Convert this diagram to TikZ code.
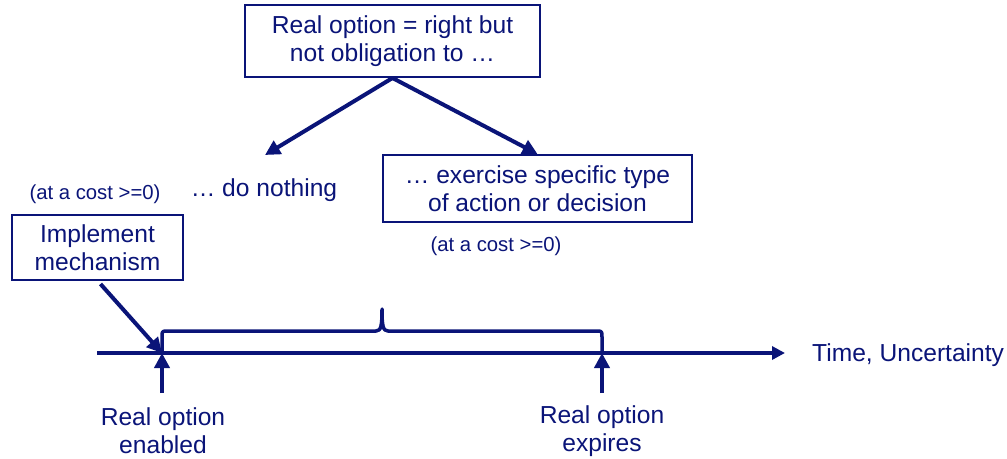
\documentclass[tikz,border=0pt]{standalone}
\usepackage{fontspec}
\setmainfont{Liberation Sans}
\usetikzlibrary{arrows.meta,calc}
\definecolor{navy}{RGB}{10,20,120}
\begin{document}
\begin{tikzpicture}[x=1pt,y=-1pt,
  every node/.style={text=navy,inner sep=0pt},
  big/.style={font=\fontsize{24.6}{28}\selectfont,align=center},
  small/.style={font=\fontsize{20.3}{24}\selectfont},
  box/.style={big,draw=navy,line width=2pt,fill=white},
  link/.style={draw=navy,line width=4pt,-{Triangle[length=15pt,width=15pt]}}]
\useasboundingbox (0,0) rectangle (1007,458);

% option boxes and texts
\node[box,minimum width=295pt,minimum height=72pt] (top) at (392.5,41) {Real option = right but\\not obligation to \ldots};
\node[box,minimum width=309pt,minimum height=67pt] (act) at (537.5,188.5) {\ldots\ exercise specific type\\of action or decision};
\node[big] (none) at (264,190) {\ldots\ do nothing};
\coordinate (noneTip) at (265,155);
\node[small] (cost1) at (95,194) {(at a cost >=0)};
\node[small] (cost2) at (496,246) {(at a cost >=0)};
\node[box,minimum width=171pt,minimum height=65pt] (impl) at (97.5,247.5) {Implement\\mechanism};

% time axis
\coordinate (axisStart) at (97,353);
\coordinate (axisEnd) at (785,353);
\coordinate (t0) at (162,353);
\coordinate (t1) at (602,353);
\coordinate (b0) at (162,393);
\coordinate (b1) at (602,393);
\node[big,anchor=west] (time) at (812,355) {Time, Uncertainty};
\node[big] (en) at (163,431) {Real option\\enabled};
\node[big] (ex) at (602,431) {Real option\\expires};

% connectors
\draw[link] (top.south) -- (noneTip);
\draw[link] (top.south) -- (act.north);
\draw[link] ($(impl.south)+(3,3)$) -- (t0);
\draw[draw=navy,line width=3.5pt,-{Triangle[length=13pt,width=13pt]}] (axisStart) -- (axisEnd);
\draw[link] (b0) -- (t0);
\draw[link] (b1) -- (t1);

% brace spanning the option's lifetime
\draw[draw=navy,line width=3.5pt,line join=round]
  (t0) -- (162,337) .. controls (162,331) .. (168,331)
  -- (376,331) .. controls (381,331) and (382,326) .. (382,309)
  .. controls (382,326) and (383,331) .. (388,331)
  -- (596,331) .. controls (602,331) .. (602,337) -- (t1);
\end{tikzpicture}
\end{document}
